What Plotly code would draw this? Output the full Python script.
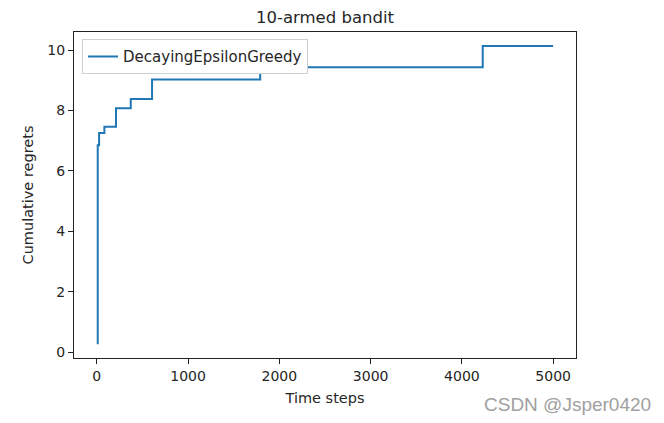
import plotly.graph_objects as go

# Time steps at which the cumulative regret changes, and the regret values
time_steps = [0, 10, 25, 83, 210, 372, 605, 1790, 4228, 4999]
cum_regrets = [0.30, 6.85, 7.26, 7.46, 8.08, 8.38, 9.03, 9.43, 10.14, 10.14]
series_name = "DecayingEpsilonGreedy"
x_ticks = [0, 1000, 2000, 3000, 4000, 5000]
y_ticks = [0, 2, 4, 6, 8, 10]

# the page places the figure 8px from the top-left corner
W, H = 656, 415
L, R, T, B = 66, 568, 24, 350

fig = go.Figure()
fig.add_trace(go.Scatter(
    x=time_steps, y=cum_regrets, mode="lines", line_shape="hv",
    line=dict(color="#1f77b4", width=2), name=series_name, showlegend=True,
))

font = "DejaVu Sans"
axis_common = dict(
    showline=True, linecolor="#222222", linewidth=1, mirror=True,
    ticks="outside", ticklen=5, tickwidth=1, tickcolor="#222222",
    showgrid=False, zeroline=False,
    tickfont=dict(family=font, size=14, color="#262626"),
)

fig.update_layout(
    width=W, height=H,
    margin=dict(l=L, r=W - R, t=T, b=H - B),
    paper_bgcolor="white", plot_bgcolor="white",
    title=dict(text="10-armed bandit", x=(L + R) / 2 / W, xanchor="center",
               y=1 - 3 / H, yanchor="top", pad=dict(t=0),
               font=dict(family=font, size=16.5, color="#262626")),
    xaxis=dict(range=[-250, 5250], tickvals=x_ticks,
               title=dict(text="Time steps", font=dict(family=font, size=14.5, color="#262626"), standoff=10),
               **axis_common),
    yaxis=dict(range=[-0.19, 10.6], tickvals=y_ticks,
               title=dict(text="Cumulative regrets", font=dict(family=font, size=14.5, color="#262626"), standoff=10),
               **axis_common),
    legend=dict(x=0.016, y=0.978, xanchor="left", yanchor="top",
                bgcolor="white", bordercolor="#d0d0d0", borderwidth=1,
                font=dict(family=font, size=15, color="#262626")),
    annotations=[dict(text="CSDN @Jsper0420", xref="paper", yref="paper",
                      x=(645 - L) / (R - L), y=(B - 396) / (B - T), xanchor="right", yanchor="middle",
                      showarrow=False,
                      font=dict(family="Liberation Sans", size=19, color="#a0a0a0"))],
)

fig.write_html("out.html")
